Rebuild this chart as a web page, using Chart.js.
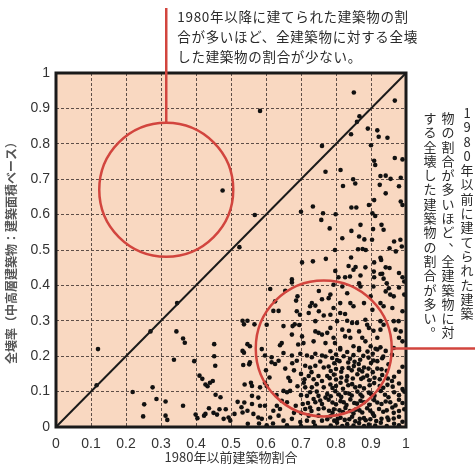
<!DOCTYPE html>
<html>
<head>
<meta charset="utf-8">
<script src="https://cdn.jsdelivr.net/npm/chart.js@4.4.1/dist/chart.umd.min.js"></script>
<style>
html, body { margin: 0; padding: 0; background: #fff; }
canvas { display: block; }
</style>
</head>
<body>
<canvas id="chart" width="475" height="465"></canvas>
<script>
// 1980年以前建築物割合 (x) / 全壊率 (y), row by row
const preRatio = [
  // sparse, left half
  0.12,0.116,0.27,0.346,0.344,0.363,0.368,0.337,0.395,0.452,0.452,0.455,
  0.41,0.418,0.427,0.433,0.44,0.448,0.219,0.276,0.287,0.313,0.252,0.249,
  0.363,0.313,0.318,0.456,0.47,0.437,0.399,0.404,0.423,0.427,0.45,0.46,
  0.485,0.479,0.493,0.498,0.519,0.538,0.533,0.547,0.533,0.547,0.537,0.533,
  0.537,0.535,0.552,0.547,0.557,0.539,0.53,0.51,0.467,
  // upper part
  0.851,0.968,0.583,0.867,0.86,0.891,0.918,0.922,0.947,0.843,0.76,0.9,
  0.968,0.99,0.909,0.912,0.476,0.77,0.813,0.849,0.855,0.82,0.927,0.942,
  0.956,0.985,0.925,0.942,0.98,0.909,0.985,0.99,0.734,0.7,0.844,0.858,
  0.894,0.763,0.799,0.904,0.912,0.568,0.758,0.782,0.87,0.906,0.93,0.936,
  0.844,0.818,0.866,0.881,0.903,0.966,0.984,0.524,0.797,0.863,0.876,0.885,
  0.953,0.971,0.988,0.703,0.734,0.771,0.843,0.929,0.836,0.85,0.856,0.798,
  0.884,0.908,0.932,0.942,0.953,0.98,0.909,0.927,0.674,
  // middle band 0.22 - 0.41
  0.674,0.612,0.655,0.69,0.686,0.626,0.731,0.741,0.726,0.751,0.76,0.621,
  0.636,0.688,0.697,0.722,0.751,0.765,0.567,0.602,0.682,0.676,0.695,0.741,
  0.65,0.674,0.703,0.741,0.75,0.76,0.775,0.645,0.64,0.692,0.707,0.554,
  0.588,0.736,0.77,
  0.807,0.826,0.84,0.87,0.909,0.927,0.936,0.99,0.995,0.793,0.818,0.866,
  0.87,0.907,0.945,0.951,0.942,0.98,0.784,0.779,0.832,0.899,0.955,0.965,
  0.995,0.812,0.793,0.841,0.85,0.88,0.927,0.936,0.961,0.904,0.812,0.826,
  0.784,0.99,0.803,0.832,0.846,0.86,0.884,0.889,0.894,0.927,0.936,0.965,
  0.979,0.784,0.818,0.837,0.866,0.907,0.927,0.97,0.985,0.793,0.797,0.826,
  0.841,0.875,0.884,0.918,0.98,0.99,0.85,0.866,0.812,0.899,0.913,0.927,
  0.965,
  // lower band, x 0.55 - 0.78
  0.554,0.597,0.616,0.636,0.65,0.674,0.688,0.698,0.717,0.731,0.741,0.76,
  0.616,0.626,0.712,0.726,0.741,0.765,0.664,0.669,0.722,0.736,0.75,0.76,
  0.775,0.56,0.583,0.597,0.602,0.712,0.731,0.745,0.765,0.65,0.66,0.669,
  0.56,0.578,0.717,0.736,0.75,0.77,0.645,0.66,0.56,0.583,0.597,0.631,
  0.64,0.621,0.712,0.726,0.75,0.765,0.564,0.578,0.588,0.612,0.636,0.65,
  0.674,0.698,0.717,0.736,0.76,0.548,0.602,0.708,0.726,0.741,0.76,0.722,
  0.75,0.7,
  0.68,0.7,0.69,0.7,0.685,0.705,0.68,0.72,0.745,0.755,0.73,0.62,
  0.66,0.7,0.74,0.58,0.63,0.61,0.6,0.655,0.675,0.755,0.73,0.71,
  // dense block, x 0.78 - 1.0
  0.784,0.812,0.832,0.866,0.89,0.918,0.942,
  0.789,0.803,0.84,0.869,0.893,0.907,0.932,
  0.779,0.818,0.851,0.88,0.918,0.99,
  0.794,0.832,0.861,0.889,0.932,0.966,
  0.784,0.813,0.846,0.909,0.947,0.98,
  0.798,0.827,0.861,0.894,0.928,0.966,0.995,
  0.779,0.813,0.841,0.87,0.909,0.942,0.98,
  0.794,0.827,0.856,0.889,0.923,0.961,0.995,
  0.784,0.813,0.846,0.88,0.909,0.947,0.98,
  0.803,0.832,0.866,0.894,0.928,0.966,
  0.8,0.85,0.905,0.96,
  0.795,0.835,0.865,0.9,0.95,
  0.785,0.815,0.845,0.875,0.905,0.945,0.98,
  0.8,0.83,0.872,0.895,0.925,0.96,
  0.79,0.82,0.855,0.88,0.935,0.99,
  0.785,0.815,0.845,0.875,0.91,0.95,0.98,
  0.8,0.83,0.86,0.895,0.93,0.97,
  0.79,0.82,0.85,0.875,0.905,0.935,0.965,
  0.795,0.825,0.855,0.885,0.915,0.95,0.99,
  0.77,0.822,0.878,0.935,
  0.81,0.853,0.918,
  0.8,0.836,0.866,0.893,0.93,
  0.782,0.815,0.848,0.878,0.91,0.948,
  0.8,0.835,0.868,0.896,0.925,0.962,
  0.775,0.808,0.838,0.87,0.9,0.94,
  0.79,0.822,0.852,0.88,0.918,0.955,0.99,
  0.78,0.81,0.84,0.867,0.898,0.945,0.98,
  0.775,0.805,0.838,0.868,0.898,0.93,0.965,
  0.785,0.818,0.85,0.88,0.912,0.945,0.98
];
const collapseRate = [
  0.22,0.118,0.27,0.35,0.27,0.25,0.238,0.19,0.186,0.234,0.2,0.173,
  0.145,0.136,0.12,0.115,0.125,0.13,0.099,0.112,0.079,0.072,0.064,0.03,
  0.06,0.032,0.02,0.091,0.084,0.053,0.035,0.025,0.032,0.037,0.04,0.035,
  0.05,0.023,0.027,0.018,0.071,0.069,0.041,0.046,0.3,0.3,0.29,0.215,
  0.21,0.175,0.177,0.234,0.125,0.12,0.056,0.037,0.05,
  0.945,0.922,0.893,0.878,0.862,0.843,0.838,0.82,0.817,0.827,0.794,0.796,
  0.76,0.756,0.752,0.74,0.668,0.721,0.726,0.7,0.688,0.681,0.709,0.71,
  0.701,0.704,0.684,0.66,0.68,0.641,0.637,0.627,0.623,0.608,0.62,0.62,
  0.627,0.604,0.601,0.604,0.596,0.599,0.585,0.561,0.571,0.559,0.571,0.557,
  0.554,0.533,0.538,0.53,0.529,0.524,0.529,0.508,0.5,0.502,0.503,0.5,
  0.505,0.496,0.51,0.465,0.468,0.475,0.479,0.472,0.455,0.444,0.452,0.441,
  0.451,0.439,0.433,0.451,0.449,0.435,0.465,0.478,0.417,
  0.408,0.39,0.385,0.369,0.357,0.355,0.35,0.343,0.341,0.384,0.361,0.328,
  0.328,0.327,0.317,0.322,0.327,0.315,0.29,0.289,0.29,0.285,0.288,0.299,
  0.285,0.261,0.256,0.27,0.266,0.261,0.266,0.237,0.231,0.233,0.237,0.228,
  0.22,0.242,0.237,
  0.423,0.423,0.425,0.428,0.423,0.432,0.419,0.423,0.411,0.402,0.397,0.406,
  0.397,0.397,0.406,0.392,0.383,0.394,0.374,0.364,0.378,0.369,0.374,0.369,
  0.374,0.35,0.336,0.35,0.341,0.35,0.35,0.341,0.336,0.331,0.322,0.319,
  0.317,0.327,0.299,0.3,0.294,0.294,0.303,0.289,0.28,0.299,0.289,0.299,
  0.299,0.28,0.275,0.272,0.27,0.272,0.275,0.275,0.27,0.252,0.237,0.256,
  0.252,0.252,0.242,0.252,0.252,0.242,0.228,0.223,0.223,0.228,0.221,0.225,
  0.223,
  0.183,0.202,0.197,0.187,0.209,0.202,0.187,0.207,0.202,0.197,0.207,0.202,
  0.183,0.178,0.173,0.168,0.173,0.168,0.139,0.13,0.144,0.135,0.144,0.13,
  0.144,0.116,0.112,0.125,0.116,0.112,0.112,0.121,0.112,0.102,0.098,0.102,
  0.088,0.083,0.088,0.079,0.088,0.083,0.074,0.07,0.065,0.06,0.06,0.06,
  0.051,0.046,0.051,0.055,0.051,0.053,0.037,0.027,0.023,0.027,0.032,0.018,
  0.023,0.014,0.018,0.014,0.018,0.009,0.005,0.125,0.098,0.07,0.065,0.032,
  0.032,0.04,
  0.16,0.15,0.115,0.09,0.06,0.065,0.04,0.068,0.1,0.075,0.045,0.01,
  0.005,0.003,0.004,0.01,0.09,0.14,0.16,0.165,0.18,0.185,0.155,0.135,
  0.214,0.219,0.212,0.217,0.213,0.219,0.215,
  0.195,0.189,0.193,0.19,0.196,0.188,0.194,
  0.171,0.166,0.172,0.168,0.165,0.17,
  0.148,0.143,0.149,0.145,0.147,0.142,
  0.12,0.125,0.121,0.124,0.119,0.123,
  0.101,0.096,0.1,0.097,0.102,0.098,0.1,
  0.077,0.073,0.078,0.074,0.076,0.072,0.077,
  0.05,0.054,0.049,0.053,0.051,0.055,0.05,
  0.03,0.026,0.029,0.025,0.031,0.027,0.029,
  0.012,0.008,0.011,0.007,0.012,0.009,
  0.205,0.203,0.207,0.204,
  0.18,0.182,0.178,0.181,0.177,
  0.158,0.156,0.16,0.157,0.155,0.159,0.156,
  0.134,0.131,0.136,0.132,0.135,0.13,
  0.11,0.108,0.112,0.109,0.111,0.107,
  0.087,0.085,0.089,0.086,0.088,0.084,0.09,
  0.064,0.062,0.066,0.063,0.065,0.061,
  0.04,0.042,0.038,0.041,0.039,0.043,0.04,
  0.018,0.02,0.016,0.019,0.017,0.02,0.015,
  0.199,0.2,0.201,0.199,
  0.186,0.184,0.186,
  0.164,0.167,0.162,0.165,0.163,
  0.138,0.14,0.137,0.14,0.139,0.137,
  0.116,0.118,0.115,0.118,0.116,0.114,
  0.093,0.092,0.094,0.092,0.093,0.091,
  0.069,0.07,0.068,0.07,0.069,0.07,0.068,
  0.046,0.047,0.045,0.047,0.046,0.047,0.045,
  0.022,0.023,0.022,0.023,0.022,0.023,0.024,
  0.004,0.003,0.004,0.003,0.004,0.003,0.005
];
const tickLabels = ['0','0.1','0.2','0.3','0.4','0.5','0.6','0.7','0.8','0.9','1'];
const diagX = [0, 1];
const diagY = [0, 1];

const xTitle = '1980年以前建築物割合';
const yTitle = '全壊率（中高層建築物：建築面積ベース）';
const noteTop = ['1980年以降に建てられた建築物の割', '合が多いほど、全建築物に対する全壊', 'した建築物の割合が少ない。'];
const noteRight = ['1980年以前に建てられた建築', '物の割合が多いほど、全建築物に対', 'する全壊した建築物の割合が多い。'];

const JP = "'Noto Sans CJK JP', sans-serif";
const NUM = "'Liberation Sans', Arial, sans-serif";
const RED = '#d2453e';

const annot = {
  id: 'annot',
  beforeDraw(chart) {
    const { ctx, chartArea: a } = chart;
    ctx.save();
    ctx.fillStyle = '#fff';
    ctx.fillRect(0, 0, chart.width, chart.height);
    ctx.fillStyle = '#f9d8c1';
    ctx.fillRect(a.left, a.top, a.right - a.left, a.bottom - a.top);
    ctx.restore();
  },
  afterDraw(chart) {
    const { ctx, chartArea: a, scales: { x, y } } = chart;
    ctx.save();
    // frame
    ctx.strokeStyle = '#1a1a1a';
    ctx.lineWidth = 3;
    ctx.strokeRect(a.left, a.top, a.right - a.left, a.bottom - a.top);

    // red circles + leader lines
    ctx.strokeStyle = RED;
    ctx.lineWidth = 2.5;
    const c1x = x.getPixelForValue(0.315), c1y = y.getPixelForValue(0.67), r1 = 67;
    ctx.beginPath(); ctx.arc(c1x, c1y, r1, 0, Math.PI * 2); ctx.stroke();
    ctx.beginPath(); ctx.moveTo(c1x, 8); ctx.lineTo(c1x, c1y - r1); ctx.stroke();
    const c2x = x.getPixelForValue(0.765), c2y = y.getPixelForValue(0.222), r2 = 68;
    ctx.beginPath(); ctx.arc(c2x, c2y, r2, 0, Math.PI * 2); ctx.stroke();
    ctx.beginPath(); ctx.moveTo(c2x + r2, c2y); ctx.lineTo(chart.width, c2y); ctx.stroke();

    // top note
    ctx.fillStyle = '#2a2a2a';
    ctx.font = '13.5px ' + JP;
    ctx.textBaseline = 'middle';
    ctx.textAlign = 'left';
    ctx.letterSpacing = '0.7px';
    noteTop.forEach((t, i) => ctx.fillText(t, c1x + 11, 17 + i * 20));
    ctx.letterSpacing = '0px';

    // right note, vertical writing
    ctx.font = '13px ' + JP;
    ctx.textAlign = 'center';
    const colX = [467, 448, 430];
    const colTop = [113, 118, 118];
    noteRight.forEach((t, i) => {
      [...t].forEach((ch, j) => {
        let cx = colX[i], cy = colTop[i] + j * 14.3;
        if (ch === '、' || ch === '。') { cx += 7; cy -= 7; }
        ctx.fillText(ch, cx, cy);
      });
    });
    ctx.restore();
  }
};

new Chart(document.getElementById('chart'), {
  type: 'scatter',
  data: {
    datasets: [
      {
        type: 'line',
        data: diagX.map((v, i) => ({ x: v, y: diagY[i] })),
        borderColor: '#1a1a1a',
        borderWidth: 2,
        pointRadius: 0
      },
      {
        data: preRatio.map((v, i) => ({ x: v, y: collapseRate[i] })),
        backgroundColor: '#111',
        borderWidth: 0,
        pointRadius: 2.3
      }
    ]
  },
  options: {
    responsive: false,
    animation: false,
    layout: { padding: { top: 73, right: 69, left: 0, bottom: 0 } },
    plugins: { legend: { display: false }, tooltip: { enabled: false } },
    scales: {
      x: {
        type: 'linear', min: 0, max: 1,
        afterFit(s) { s.height = 38; },
        grid: { color: '#5e4e48', lineWidth: 1, drawTicks: false },
        border: { display: false, dash: [3, 2] },
        ticks: {
          stepSize: 0.1, padding: 9, color: '#333',
          font: { family: NUM, size: 14 },
          callback: v => tickLabels[Math.round(v * 10)]
        },
        title: {
          display: true, text: xTitle, color: '#333',
          font: { family: JP, size: 13 }, padding: { top: 0, bottom: 0 }
        }
      },
      y: {
        type: 'linear', min: 0, max: 1,
        afterFit(s) { s.width = 56; },
        grid: { color: '#5e4e48', lineWidth: 1, drawTicks: false },
        border: { display: false, dash: [3, 2] },
        ticks: {
          stepSize: 0.1, padding: 6, color: '#333',
          font: { family: NUM, size: 14 },
          callback: v => tickLabels[Math.round(v * 10)]
        },
        title: {
          display: true, text: yTitle, color: '#555',
          font: { family: JP, size: 12, weight: 'bold' }, padding: { top: 4, bottom: 4 }
        }
      }
    }
  },
  plugins: [annot]
});
</script>
</body>
</html>
